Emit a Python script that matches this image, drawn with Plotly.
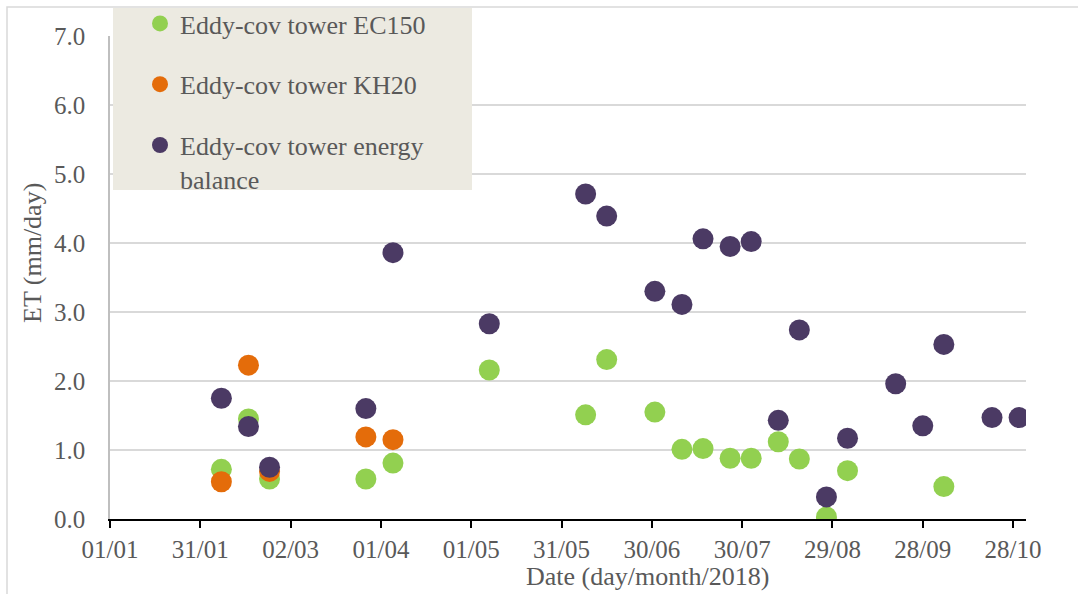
import plotly.graph_objects as go

# Daily evapotranspiration at the eddy-covariance tower, 2018
ec150_dates = ["2018-02-07", "2018-02-16", "2018-02-23", "2018-03-27", "2018-04-05",
               "2018-05-07", "2018-06-08", "2018-06-15", "2018-07-01", "2018-07-10",
               "2018-07-17", "2018-07-26", "2018-08-02", "2018-08-11", "2018-08-18",
               "2018-08-27", "2018-09-03", "2018-10-05"]
ec150_et = [0.72, 1.45, 0.58, 0.58, 0.81,
            2.16, 1.51, 2.31, 1.55, 1.01,
            1.02, 0.88, 0.88, 1.12, 0.87,
            0.03, 0.70, 0.47]

kh20_dates = ["2018-02-07", "2018-02-16", "2018-02-23", "2018-03-27", "2018-04-05"]
kh20_et = [0.54, 2.23, 0.69, 1.19, 1.15]

eb_dates = ["2018-02-07", "2018-02-16", "2018-02-23", "2018-03-27", "2018-04-05",
            "2018-05-07", "2018-06-08", "2018-06-15", "2018-07-01", "2018-07-10",
            "2018-07-17", "2018-07-26", "2018-08-02", "2018-08-11", "2018-08-18",
            "2018-08-27", "2018-09-03", "2018-09-19", "2018-09-28", "2018-10-05",
            "2018-10-21", "2018-10-30"]
eb_et = [1.75, 1.34, 0.75, 1.60, 3.86,
         2.83, 4.71, 4.39, 3.30, 3.11,
         4.06, 3.95, 4.02, 1.43, 2.74,
         0.32, 1.17, 1.96, 1.35, 2.53,
         1.47, 1.47]

series_names = ["Eddy-cov tower EC150", "Eddy-cov tower KH20",
                "Eddy-cov tower energy<br>balance"]
series_colors = ["#92D050", "#E46C0A", "#4B3A64"]

FONT = "Liberation Serif, Times New Roman, serif"
TEXT_GRAY = "#595959"

W, H = 1078, 594
L, R, T, B = 110, 52, 36, 75
PW, PH = W - L - R, H - T - B


def px(x):
    return (x - L) / PW


def py(y):
    return (H - B - y) / PH


fig = go.Figure()
for name, xs, ys, col, grp in zip(series_names,
                                  [ec150_dates, kh20_dates, eb_dates],
                                  [ec150_et, kh20_et, eb_et],
                                  series_colors, ["a", "b", "c"]):
    fig.add_trace(go.Scatter(
        x=xs, y=ys, mode="markers", name=name, legendgroup=grp,
        marker=dict(size=21, color=col, line=dict(width=0)),
    ))

fig.update_layout(
    width=W, height=H,
    margin=dict(l=L, r=R, t=T, b=B, autoexpand=False),
    paper_bgcolor="white", plot_bgcolor="white",
    font=dict(family=FONT, color=TEXT_GRAY, size=25),
    showlegend=True,
    legend=dict(
        x=px(140), y=py(0), xanchor="left", yanchor="top",
        bgcolor="rgba(0,0,0,0)", borderwidth=0,
        font=dict(family=FONT, size=26, color=TEXT_GRAY),
        traceorder="grouped", tracegroupgap=24, valign="top",
    ),
    xaxis=dict(
        type="date",
        range=["2018-01-01", "2018-11-01 07:00"],
        tick0="2018-01-01", dtick=30 * 86400000,
        tickformat="%d/%m",
        showgrid=False, zeroline=False,
        showline=True, linecolor="black", linewidth=2,
        ticks="outside", ticklen=7, tickwidth=2, tickcolor="black",
        tickfont=dict(family=FONT, size=25, color=TEXT_GRAY),
    ),
    yaxis=dict(
        range=[0, 7], dtick=1, tickformat=".1f",
        showgrid=True, gridcolor="#D9D9D9", gridwidth=1.5,
        zeroline=False,
        showline=True, linecolor="#BFBFBF", linewidth=1.5,
        ticks="", ticklabelstandoff=18,
        tickfont=dict(family=FONT, size=25, color=TEXT_GRAY),
    ),
    shapes=[
        # chart-area frame
        dict(type="rect", xref="paper", yref="paper",
             x0=px(7), x1=px(1120), y0=py(620), y1=py(7),
             line=dict(color="#D9D9D9", width=1.5), fillcolor="rgba(0,0,0,0)",
             layer="below"),
        # legend panel
        dict(type="rect", xref="paper", yref="paper",
             x0=px(113), x1=px(472), y0=py(190), y1=py(8),
             line=dict(width=0), fillcolor="#ECEAE1", layer="above"),
    ],
    annotations=[
        dict(text="Date (day/month/2018)", xref="paper", yref="paper",
             x=px(647), y=py(576), xanchor="center", yanchor="middle",
             showarrow=False, font=dict(family=FONT, size=26, color=TEXT_GRAY)),
        dict(text="ET (mm/day)", xref="paper", yref="paper",
             x=px(32), y=py(253), xanchor="center", yanchor="middle",
             textangle=-90, showarrow=False,
             font=dict(family=FONT, size=26, color=TEXT_GRAY)),
    ],
)

fig.write_html("out.html")
